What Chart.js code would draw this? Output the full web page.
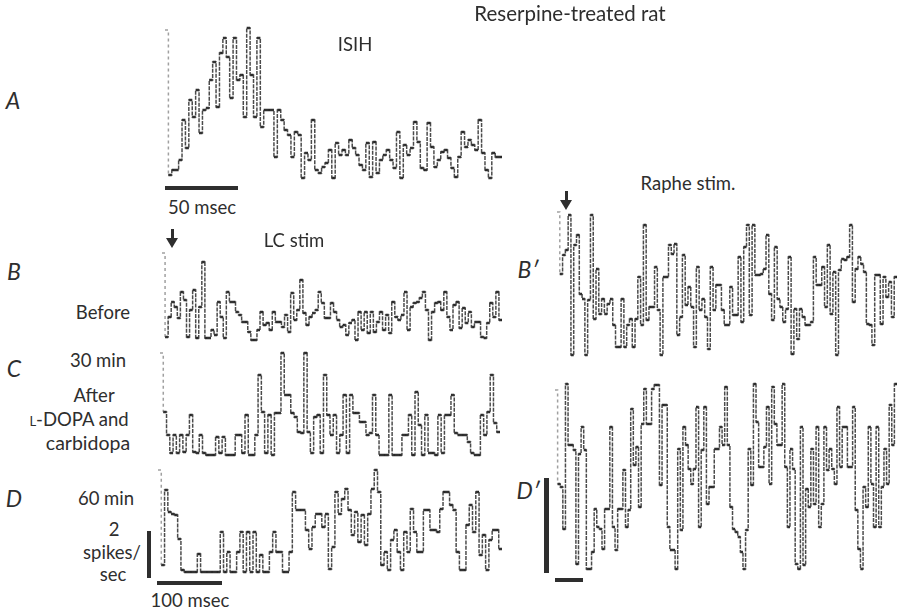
<!DOCTYPE html>
<html>
<head>
<meta charset="utf-8">
<script src="https://cdn.jsdelivr.net/npm/chart.js@4.4.0/dist/chart.umd.min.js"></script>
<style>
  body { margin: 0; background: #fff; }
  #page { position: relative; width: 898px; height: 612px; overflow: hidden; background: #fff; font-family: Lato, "Open Sans", sans-serif; color: #2e2e2e; }
  #page canvas { position: absolute; }
  .lbl { position: absolute; transform: translate(-50%, -50%); white-space: nowrap; font-size: 18.5px; line-height: 1; }
  .big { font-size: 23px; font-style: italic; }
  .bar { position: absolute; background: #2e2e2e; }
  .arrow { position: absolute; width: 0; height: 0; }
</style>
</head>
<body>
<div id="page"></div>
<script>
// values (bin height above baseline, arbitrary units)
const isihCounts = [150, 5, 10, 10, 20, 60, 32, 80, 63, 90, 47, 70, 72, 100, 118, 73, 127, 142, 123, 82, 142, 100, 105, 63, 152, 105, 63, 142, 53, 70, 70, 70, 23, 70, 60, 50, 45, 23, 48, 45, 2, 27, 20, 60, 10, 7, 13, 17, 30, 2, 37, 25, 30, 25, 40, 32, 25, 15, 10, 37, 3, 38, 7, 20, 25, 30, 20, 12, 48, 2, 35, 25, 32, 58, 38, 12, 10, 57, 33, 13, 20, 28, 30, 22, 12, 3, 23, 48, 33, 40, 35, 30, 60, 27, 10, 2, 27, 23, 23];

const lcBefore = [87, 3, 23, 38, 33, 22, 48, 40, 3, 30, 50, 2, 33, 78, 2, 2, 10, 5, 38, 23, 2, 48, 38, 38, 28, 25, 18, 18, 8, 0, 0, 10, 28, 15, 17, 10, 28, 18, 18, 13, 25, 8, 47, 20, 30, 60, 27, 15, 23, 27, 30, 48, 37, 22, 22, 37, 28, 20, 13, 15, 5, 17, 20, 0, 28, 10, 28, 7, 28, 8, 18, 28, 10, 25, 7, 38, 23, 20, 25, 48, 10, 33, 37, 38, 42, 48, 30, 0, 28, 37, 38, 30, 48, 23, 10, 35, 38, 12, 32, 17, 28, 13, 18, 18, 3, 2, 17, 37, 23, 48, 20];

const lcAfter30 = [102, 43, 20, 2, 20, 2, 20, 3, 20, 40, 3, 2, 20, 2, 0, 0, 0, 18, 2, 18, 0, 0, 0, 20, 20, 2, 40, 0, 0, 20, 80, 43, 2, 40, 0, 42, 42, 102, 60, 60, 42, 38, 23, 22, 102, 23, 2, 38, 40, 2, 80, 40, 20, 40, 2, 20, 60, 2, 60, 42, 42, 33, 33, 20, 22, 60, 20, 0, 0, 0, 60, 0, 0, 0, 20, 20, 40, 0, 63, 30, 0, 40, 2, 2, 0, 40, 2, 40, 40, 60, 22, 20, 20, 20, 13, 2, 0, 0, 40, 20, 43, 80, 32, 23];

const lcAfter60 = [102, 7, 82, 60, 58, 57, 33, 2, 0, 0, 0, 0, 18, 0, 0, 0, 0, 0, 0, 40, 0, 20, 0, 0, 20, 40, 0, 40, 0, 40, 0, 17, 0, 0, 20, 40, 20, 20, 0, 0, 20, 80, 62, 62, 62, 42, 23, 45, 58, 58, 45, 58, 3, 25, 80, 58, 73, 83, 62, 37, 60, 30, 57, 27, 58, 83, 102, 80, 7, 20, 2, 32, 42, 20, 2, 40, 20, 63, 40, 20, 20, 62, 62, 42, 42, 40, 63, 80, 80, 67, 62, 20, 2, 2, 47, 67, 40, 80, 17, 37, 2, 32, 42, 42, 23];

const rapheBefore = [145, 83, 102, 107, 142, 2, 112, 122, 63, 58, 2, 57, 142, 38, 88, 43, 58, 43, 53, 58, 32, 10, 10, 58, 10, 32, 38, 10, 38, 80, 32, 132, 37, 50, 50, 90, 47, 2, 80, 80, 112, 103, 113, 22, 40, 102, 52, 70, 50, 10, 90, 47, 58, 40, 8, 90, 47, 72, 72, 47, 32, 32, 70, 42, 42, 100, 35, 110, 132, 42, 132, 82, 82, 83, 88, 122, 63, 37, 110, 58, 50, 35, 48, 100, 3, 48, 18, 48, 40, 32, 32, 35, 100, 72, 72, 90, 50, 112, 43, 85, 2, 87, 98, 97, 100, 132, 55, 88, 100, 93, 85, 33, 32, 12, 82, 82, 33, 80, 60, 75, 40, 80];

const rapheAfter60 = [182, 88, 85, 43, 188, 127, 127, 122, 8, 118, 145, 122, 3, 3, 20, 63, 45, 43, 23, 63, 63, 145, 45, 22, 63, 63, 102, 45, 62, 163, 107, 125, 65, 148, 183, 148, 148, 183, 187, 187, 87, 167, 167, 45, 22, 22, 3, 123, 42, 145, 127, 103, 88, 103, 165, 45, 122, 165, 68, 85, 85, 123, 123, 145, 127, 185, 127, 65, 43, 40, 35, 20, 3, 42, 123, 87, 188, 150, 105, 105, 125, 165, 88, 185, 148, 127, 127, 188, 105, 45, 123, 103, 8, 3, 145, 7, 83, 65, 123, 68, 145, 45, 68, 145, 102, 123, 103, 88, 165, 105, 145, 145, 105, 105, 165, 62, 23, 3, 85, 65, 145, 88, 45, 145, 45, 85, 123, 88, 167, 127, 188];

// where each trace sits on the page
const panels = [
  { values: isihCounts, left: 165, right: 502, base: 180, top: 24 },
  { values: lcBefore, left: 162, right: 502, base: 340, top: 248 },
  { values: lcAfter30, left: 160, right: 500, base: 455, top: 348 },
  { values: lcAfter60, left: 158, right: 502, base: 572, top: 465 },
  { values: rapheBefore, left: 557, right: 897, base: 357, top: 205 },
  { values: rapheAfter60, left: 555, right: 897, base: 572, top: 380 },
];

const labels = [
  { text: "Reserpine-treated rat", x: 570, y: 13, size: 20.5 },
  { text: "ISIH", x: 355, y: 44 },
  { text: "50 msec", x: 202, y: 207 },
  { text: "LC stim", x: 294, y: 240 },
  { text: "Raphe stim.", x: 688, y: 183 },
  { text: "Before", x: 103, y: 312 },
  { text: "30 min", x: 98, y: 360 },
  { text: "After", x: 94, y: 395 },
  { html: '<span style="font-variant: small-caps">l</span>-DOPA and', x: 79, y: 419 },
  { text: "carbidopa", x: 88, y: 443, size: 19.5 },
  { text: "60 min", x: 106, y: 498 },
  { text: "2", x: 114, y: 529 },
  { text: "spikes/", x: 112, y: 552 },
  { text: "sec", x: 113, y: 574 },
  { text: "100 msec", x: 190, y: 600 },
  { text: "A", x: 13, y: 100, big: true },
  { text: "B", x: 14, y: 271, big: true },
  { text: "C", x: 14, y: 368, big: true },
  { text: "D", x: 14, y: 498, big: true },
  { text: "B′", x: 528, y: 269, big: true },
  { text: "D′", x: 528, y: 490, big: true },
];

const page = document.getElementById("page");

// first bin of every trace is only a faint dashed stroke on the scan
const firstBinColor = (ctx) => (ctx.p0DataIndex === 0 ? "rgba(120, 120, 120, 0.7)" : undefined);
const firstBinDash = (ctx) => (ctx.p0DataIndex === 0 ? [3, 3] : undefined);

panels.forEach((p) => {
  const canvas = document.createElement("canvas");
  const width = p.right - p.left;
  const height = p.base - p.top + 4;
  canvas.width = width;
  canvas.height = height;
  canvas.style.left = p.left + "px";
  canvas.style.top = p.top + "px";
  canvas.style.width = width + "px";
  canvas.style.height = height + "px";
  page.appendChild(canvas);

  const n = p.values.length;
  // step outline (risers show up lighter, like on the scan)
  const steps = p.values.map((v, i) => ({ x: i, y: v }));
  steps.push({ x: n, y: p.values[n - 1] });
  // flat tops of each bin, drawn darker
  const flats = [];
  p.values.forEach((v, i) => {
    if (i === 0) return;
    flats.push({ x: i, y: v }, { x: i + 1, y: v }, { x: i + 1, y: null });
  });

  new Chart(canvas.getContext("2d"), {
    type: "line",
    data: {
      datasets: [
        {
          data: steps,
          stepped: true,
          borderColor: "rgba(55, 55, 55, 0.9)",
          borderWidth: 1.5,
          borderDash: [4, 1.2],
          pointRadius: 0,
          clip: false,
          segment: { borderColor: firstBinColor, borderDash: firstBinDash },
        },
        {
          data: flats,
          borderColor: "#262626",
          borderWidth: 2.5,
          pointRadius: 0,
          spanGaps: false,
          clip: false,
        },
      ],
    },
    options: {
      responsive: false,
      animation: false,
      devicePixelRatio: 1,
      layout: { padding: 0 },
      scales: {
        x: { type: "linear", display: false, min: 0, max: n },
        y: { display: false, min: -4, max: p.base - p.top },
      },
      plugins: { legend: { display: false }, tooltip: { enabled: false } },
    },
  });
});

labels.forEach((l) => {
  const div = document.createElement("div");
  div.className = l.big ? "lbl big" : "lbl";
  if (l.html) div.innerHTML = l.html;
  else div.textContent = l.text;
  div.style.left = l.x + "px";
  div.style.top = l.y + "px";
  if (l.size) div.style.fontSize = l.size + "px";
  page.appendChild(div);
});

// calibration bars
const bars = [
  { left: 165, top: 186, width: 73, height: 4 },
  { left: 157, top: 581, width: 65, height: 4 },
  { left: 147, top: 531, width: 4, height: 47 },
  { left: 544, top: 478, width: 5, height: 95 },
  { left: 555, top: 578, width: 28, height: 4 },
];
bars.forEach((b) => {
  const div = document.createElement("div");
  div.className = "bar";
  div.style.left = b.left + "px";
  div.style.top = b.top + "px";
  div.style.width = b.width + "px";
  div.style.height = b.height + "px";
  page.appendChild(div);
});

// stimulus arrows
const arrows = [
  { x: 172, top: 229 },
  { x: 566, top: 191 },
];
arrows.forEach((a) => {
  const stem = document.createElement("div");
  stem.className = "bar";
  stem.style.left = a.x - 1.5 + "px";
  stem.style.top = a.top + "px";
  stem.style.width = "3px";
  stem.style.height = "10px";
  page.appendChild(stem);
  const head = document.createElement("div");
  head.className = "arrow";
  head.style.left = a.x - 6 + "px";
  head.style.top = a.top + 9 + "px";
  head.style.borderLeft = "6px solid transparent";
  head.style.borderRight = "6px solid transparent";
  head.style.borderTop = "10px solid #2e2e2e";
  page.appendChild(head);
});
</script>
</body>
</html>
